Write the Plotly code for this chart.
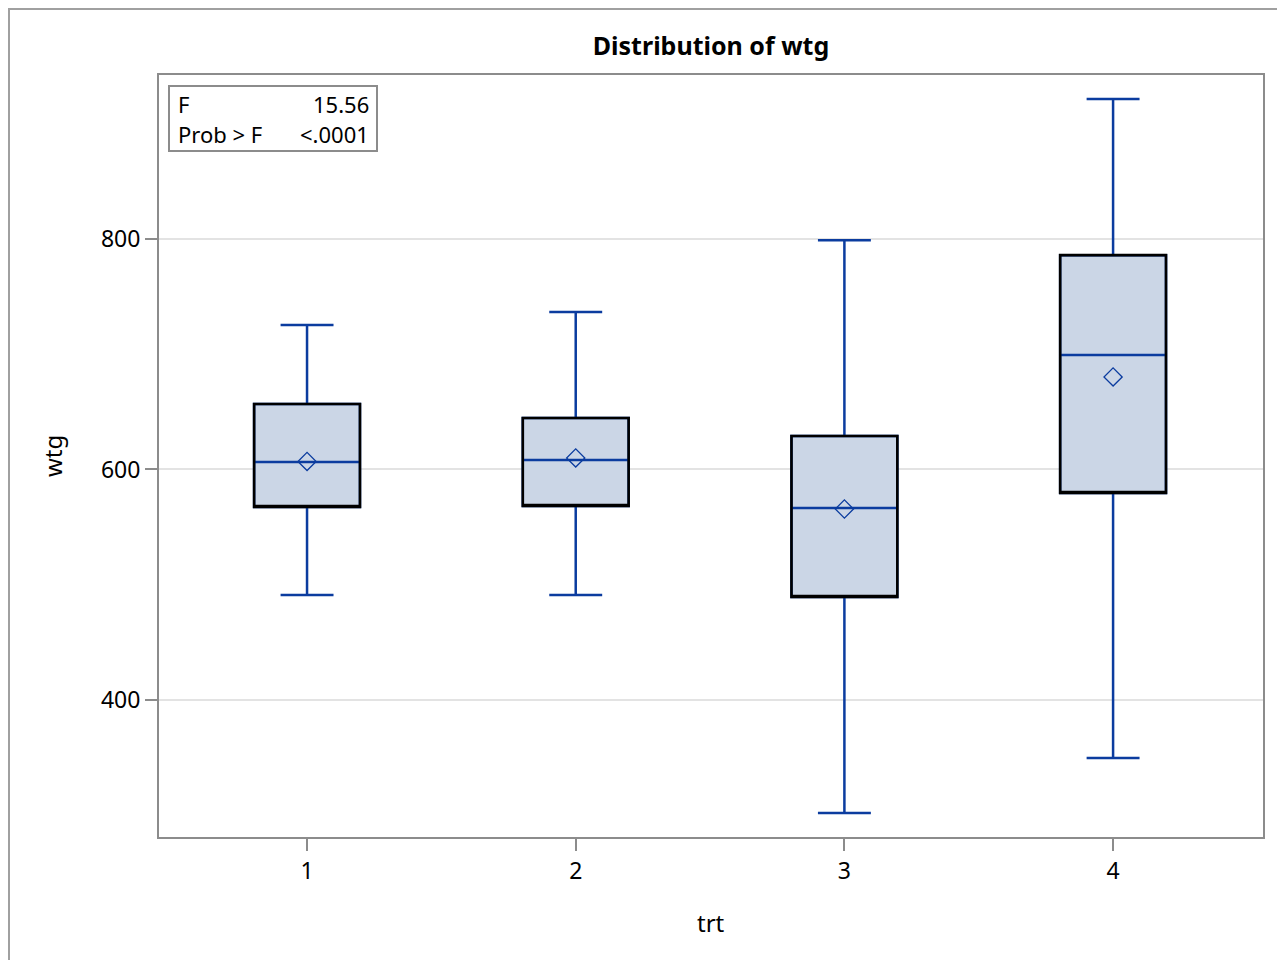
import plotly.graph_objects as go

# ---- data ----
trt = [1, 2, 3, 4]
q1 = [567.5, 568.3, 489.4, 579.6]
median = [606.5, 608.2, 566.6, 699.3]
q3 = [656.8, 644.7, 629.1, 786.0]
lower_whisker = [491.1, 491.1, 302.0, 349.7]
upper_whisker = [725.4, 736.7, 799.0, 921.5]
means = [607.0, 610.0, 565.7, 680.3]
stat_labels = ["F", "Prob > F"]
stat_values = ["15.56", "<.0001"]
y_ticks = [400, 600, 800]

BLUE = "#0b3c9f"
FILL = "#cbd6e6"
FONT = "Noto Sans"

OFF = 8                      # page body margin
W, H = 1285 - OFF, 960 - OFF  # figure size
L, R, T, B = 159, 1263, 75, 837  # plot area in page pixels


def px(xp):
    return (xp - L) / (R - L)


def py(yp):
    return (B - yp) / (B - T)


fig = go.Figure()

# blue box: whiskers, caps, median
fig.add_trace(go.Box(
    x=trt, q1=q1, median=median, q3=q3,
    lowerfence=lower_whisker, upperfence=upper_whisker,
    width=0.394, whiskerwidth=0.5,
    fillcolor=FILL, line=dict(color=BLUE, width=2.5),
    boxpoints=False, hoverinfo="skip", showlegend=False,
))
# black box outline on top
fig.add_trace(go.Box(
    x=trt, q1=q1, median=q1, q3=q3,
    lowerfence=q1, upperfence=q3,
    width=0.394, whiskerwidth=0,
    fillcolor="rgba(0,0,0,0)", line=dict(color="black", width=2.6),
    boxpoints=False, hoverinfo="skip", showlegend=False,
))
# means
fig.add_trace(go.Scatter(
    x=trt, y=means, mode="markers",
    marker=dict(symbol="diamond-open", size=14, color=BLUE, line=dict(width=1.3, color=BLUE)),
    hoverinfo="skip", showlegend=False,
))

fig.update_layout(
    width=W, height=H,
    margin=dict(l=L - OFF, r=(W + OFF) - R, t=T - OFF, b=(H + OFF) - B),
    paper_bgcolor="white", plot_bgcolor="white",
    font=dict(family=FONT, size=23, color="black"),
    title=dict(text="<b>Distribution of wtg</b>", x=0.5, xref="paper",
               y=1 - (46 - OFF) / H, yref="container", xanchor="center", yanchor="middle",
               font=dict(size=25, family=FONT)),
    xaxis=dict(range=[0.449, 4.558], tickvals=trt, ticktext=[str(t) for t in trt],
               showgrid=False, zeroline=False,
               showline=True, linecolor="#8c8c8c", linewidth=2, mirror=True,
               ticks="outside", ticklen=12, tickwidth=2, tickcolor="#8c8c8c",
               tickfont=dict(size=23)),
    yaxis=dict(range=[281.1, 942.3], tickvals=y_ticks,
               showgrid=True, gridcolor="#e3e3e3", gridwidth=2, zeroline=False,
               showline=True, linecolor="#8c8c8c", linewidth=2, mirror=True,
               ticks="outside", ticklen=12, tickwidth=2, tickcolor="#8c8c8c",
               tickfont=dict(size=23)),
)

annotations = [
    dict(text="wtg", x=px(52), y=0.5, xref="paper", yref="paper", textangle=-90,
         showarrow=False, xanchor="center", yanchor="middle", font=dict(size=24)),
    dict(text="trt", x=0.5, y=py(922), xref="paper", yref="paper",
         showarrow=False, xanchor="center", yanchor="middle", font=dict(size=24)),
]
for i, (lab, val) in enumerate(zip(stat_labels, stat_values)):
    yc = py(104 + 30 * i)
    annotations.append(dict(text=lab, x=px(176), y=yc, xref="paper", yref="paper",
                            showarrow=False, xanchor="left", yanchor="middle", font=dict(size=22)))
    annotations.append(dict(text=val, x=px(371), y=yc, xref="paper", yref="paper",
                            showarrow=False, xanchor="right", yanchor="middle", font=dict(size=22)))
fig.update_layout(annotations=annotations)

fig.update_layout(shapes=[
    dict(type="rect", xref="paper", yref="paper", x0=px(169), x1=px(377), y0=py(151), y1=py(86),
         line=dict(color="#8c8c8c", width=2), fillcolor="rgba(0,0,0,0)"),
    dict(type="rect", xref="paper", yref="paper", x0=px(9), x1=px(1284), y0=py(990), y1=py(9),
         line=dict(color="#a0a0a0", width=2), fillcolor="rgba(0,0,0,0)", layer="below"),
])

fig.write_html("out.html")
